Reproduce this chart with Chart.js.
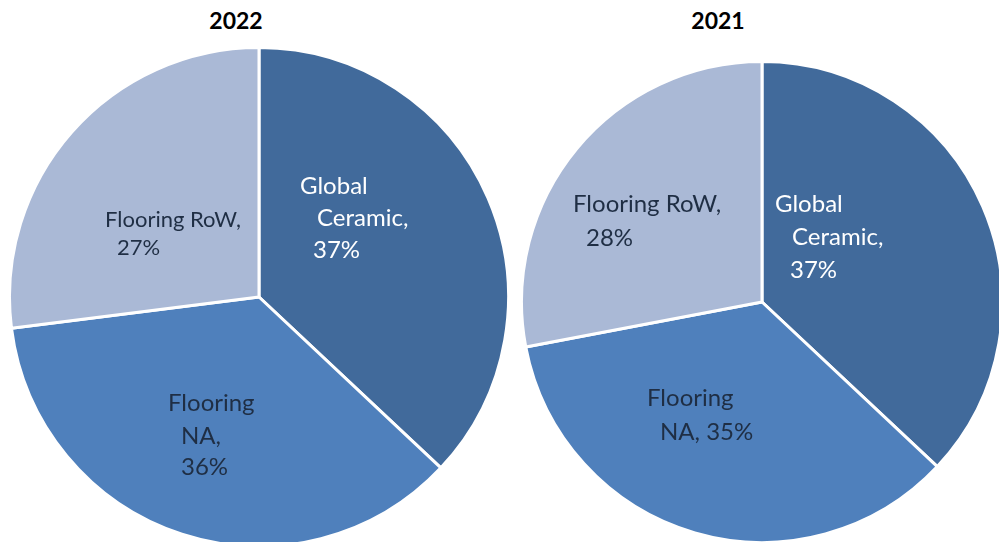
<!DOCTYPE html>
<html>
<head>
<meta charset="utf-8">
<script src="https://cdn.jsdelivr.net/npm/chart.js@4.4.1/dist/chart.umd.min.js"></script>
<style>
  html, body { margin: 0; padding: 0; width: 999px; height: 542px; overflow: hidden; background: #ffffff; }
  .pie { position: absolute; }
  .title { position: absolute; font-family: Lato, "Open Sans", sans-serif; font-weight: 700; font-size: 23px; color: #000; transform: translateX(-50%); }
</style>
</head>
<body>
<div class="title" style="left:236px; top:6px;">2022</div>
<div class="title" style="left:718px; top:6px;">2021</div>
<canvas id="pie2022" class="pie" width="502" height="502" style="left:8px; top:46px;"></canvas>
<canvas id="pie2021" class="pie" width="484" height="484" style="left:520px; top:60px;"></canvas>
<script>
// Revenue share by segment
const segments = ["Global Ceramic", "Flooring NA", "Flooring RoW"];
const share2022 = [37, 36, 27];
const share2021 = [37, 35, 28];
const segmentColors = ["#416a9b", "#4f80bc", "#aab9d6"];
const labelColors = ["#ffffff", "#1f2e44", "#1f2e44"];

// How many words go on each line of a slice label, plus where the lines sit
const layout2022 = [
  { groups: [1, 1, 1], size: 24, lines: [[41, -111], [58, -79], [54, -47]] },
  { groups: [1, 1, 1], size: 24, lines: [[-91, 106], [-78, 139], [-78, 170]] },
  { groups: [2, 1],    size: 22, lines: [[-154, -77], [-142, -49]] }
];
const layout2021 = [
  { groups: [1, 1, 1], size: 24, lines: [[13, -98], [30, -65], [28, -32]] },
  { groups: [1, 2],    size: 24, lines: [[-115, 96], [-102, 130]] },
  { groups: [2, 1],    size: 24, lines: [[-189, -98], [-176, -64]] }
];

function labelLines(name, value, groups) {
  const words = (name + ", " + value + "%").split(" ");
  const out = [];
  let k = 0;
  for (const n of groups) {
    out.push(words.slice(k, k + n).join(" "));
    k += n;
  }
  return out;
}

const sliceLabels = {
  id: "sliceLabels",
  afterDatasetsDraw(chart, args, opts) {
    const ctx = chart.ctx;
    const meta = chart.getDatasetMeta(0);
    const values = chart.data.datasets[0].data;
    meta.data.forEach((arc, i) => {
      const spec = opts.layout[i];
      const lines = labelLines(chart.data.labels[i], values[i], spec.groups);
      ctx.save();
      ctx.fillStyle = labelColors[i];
      ctx.font = spec.size + "px Lato, 'Open Sans', sans-serif";
      ctx.textAlign = "left";
      ctx.textBaseline = "middle";
      lines.forEach((t, j) => {
        const [dx, dy] = spec.lines[j];
        ctx.fillText(t, arc.x + dx, arc.y + dy);
      });
      ctx.restore();
    });
  }
};

function makePie(id, values, layout) {
  return new Chart(document.getElementById(id), {
    type: "pie",
    data: {
      labels: segments,
      datasets: [{
        data: values,
        backgroundColor: segmentColors,
        borderColor: "#ffffff",
        borderWidth: 3
      }]
    },
    options: {
      responsive: false,
      animation: false,
      layout: { padding: 0 },
      plugins: {
        legend: { display: false },
        tooltip: { enabled: false },
        title: { display: false },
        sliceLabels: { layout: layout }
      }
    },
    plugins: [sliceLabels]
  });
}

makePie("pie2022", share2022, layout2022);
makePie("pie2021", share2021, layout2021);
</script>
</body>
</html>
